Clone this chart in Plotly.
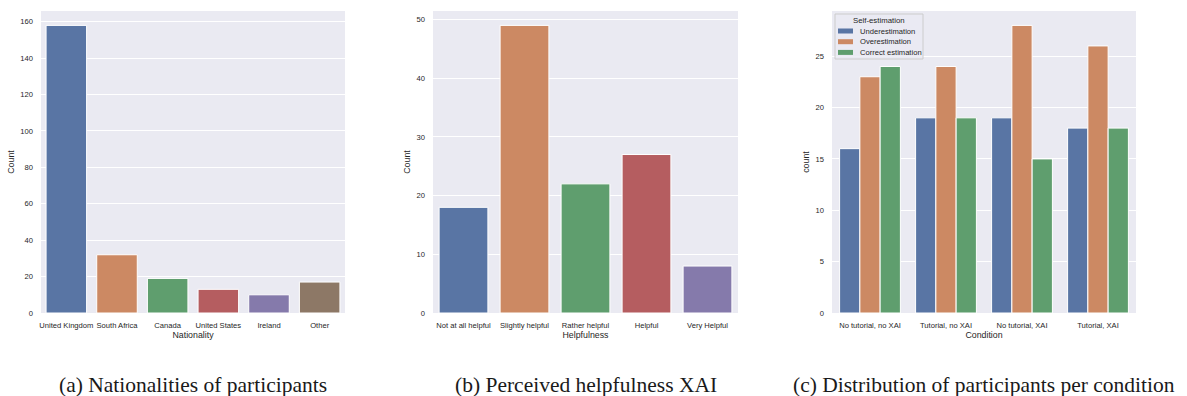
import plotly.graph_objects as go

# ---- data ----
nationalities = ["United Kingdom", "South Africa", "Canada", "United States", "Ireland", "Other"]
nationality_counts = [158, 32, 19, 13, 10, 17]

helpfulness = ["Not at all helpful", "Slightly helpful", "Rather helpful", "Helpful", "Very Helpful"]
helpfulness_counts = [18, 49, 22, 27, 8]

conditions = ["No tutorial, no XAI", "Tutorial, no XAI", "No tutorial, XAI", "Tutorial, XAI"]
self_estimation = ["Underestimation", "Overestimation", "Correct estimation"]
under_counts = [16, 19, 19, 18]
over_counts = [23, 24, 28, 26]
correct_counts = [24, 19, 15, 18]

captions = ["(a) Nationalities of participants",
            "(b) Perceived helpfulness XAI",
            "(c) Distribution of participants per condition"]

# seaborn "deep" palette, desaturated as in barplot
palette = ["#5975A4", "#CC8963", "#5F9E6E", "#B55D60", "#857AAB", "#8D7866"]

W, H = 1187, 396
BG = "#EAEAF2"
SANS = "Liberation Sans, Arial, sans-serif"
TICK_FONT = dict(family=SANS, size=7.6, color="#262626")
TITLE_FONT = dict(family=SANS, size=8.8, color="#262626")


def px_x(v):
    return v / W


def px_y(v):
    return 1 - v / H


panels = [(41, 345), (433, 738), (832, 1136)]
top, bottom = 11, 313

fig = go.Figure()

edge = dict(color="white", width=1)

fig.add_trace(go.Bar(x=nationalities, y=nationality_counts, xaxis="x", yaxis="y",
                     marker=dict(color=palette[:len(nationalities)], line=edge),
                     showlegend=False))
fig.add_trace(go.Bar(x=helpfulness, y=helpfulness_counts, xaxis="x2", yaxis="y2",
                     marker=dict(color=palette[:len(helpfulness)], line=edge),
                     showlegend=False))
for name, vals, col in zip(self_estimation, [under_counts, over_counts, correct_counts], palette):
    fig.add_trace(go.Bar(x=conditions, y=vals, name=name, xaxis="x3", yaxis="y3",
                         marker=dict(color=col, line=edge), showlegend=False))

ymax = [max(nationality_counts) * 1.05, max(helpfulness_counts) * 1.05,
        max(under_counts + over_counts + correct_counts) * 1.05]
dticks = [20, 10, 5]
xtitles = ["Nationality", "Helpfulness", "Condition"]
ytitles = ["Count", "Count", "count"]

layout = {}
for i, ((x0, x1), ym, dt, xt, yt) in enumerate(zip(panels, ymax, dticks, xtitles, ytitles)):
    sfx = "" if i == 0 else str(i + 1)
    layout["xaxis" + sfx] = dict(
        domain=[px_x(x0), px_x(x1)], anchor="y" + sfx, automargin=False,
        showgrid=False, zeroline=False, showline=False, ticks="", tickangle=0,
        ticklabelstandoff=6,
        tickfont=TICK_FONT, title=dict(text=xt, font=TITLE_FONT, standoff=1),
    )
    layout["yaxis" + sfx] = dict(
        domain=[px_y(bottom), px_y(top)], anchor="x" + sfx, automargin=False,
        range=[0, ym], dtick=dt, showgrid=True, gridcolor="white", gridwidth=1,
        zeroline=False, showline=False, ticks="", ticklabelstandoff=7,
        tickfont=TICK_FONT, title=dict(text=yt, font=TITLE_FONT, standoff=4),
    )

fig.update_layout(**layout)

# plot-area backgrounds
shapes = []
for (x0, x1) in panels:
    shapes.append(dict(type="rect", xref="paper", yref="paper", layer="below",
                       x0=px_x(x0), x1=px_x(x1), y0=px_y(bottom), y1=px_y(top),
                       fillcolor=BG, line=dict(width=0)))

annotations = []
for (x0, x1), cap in zip(panels, captions):
    annotations.append(dict(text=cap, xref="paper", yref="paper",
                            x=(px_x(x0) + px_x(x1)) / 2, y=px_y(385),
                            xanchor="center", yanchor="middle", showarrow=False,
                            font=dict(family="Liberation Serif, DejaVu Serif, serif",
                                      size=21.5, color="#1a1a1a")))

# compact legend box for the self-estimation panel
leg_x0, leg_x1, leg_y0, leg_y1 = 835, 923, 14, 59
shapes.append(dict(type="rect", xref="paper", yref="paper",
                   x0=px_x(leg_x0), x1=px_x(leg_x1), y0=px_y(leg_y1), y1=px_y(leg_y0),
                   fillcolor="rgba(234,234,242,0.8)", line=dict(color="#cccccc", width=1)))
annotations.append(dict(text="Self-estimation", xref="paper", yref="paper",
                        x=px_x((leg_x0 + leg_x1) / 2), y=px_y(20.5),
                        xanchor="center", yanchor="middle", showarrow=False,
                        font=dict(family=SANS, size=7.8, color="#262626")))
for k, (name, col) in enumerate(zip(self_estimation, palette)):
    yc = 31 + k * 10.7
    shapes.append(dict(type="rect", xref="paper", yref="paper",
                       x0=px_x(838), x1=px_x(853), y0=px_y(yc + 2.5), y1=px_y(yc - 2.5),
                       fillcolor=col, line=dict(width=0)))
    annotations.append(dict(text=name, xref="paper", yref="paper",
                            x=px_x(858), y=px_y(yc),
                            xanchor="left", yanchor="middle", showarrow=False,
                            font=dict(family=SANS, size=7.6, color="#262626")))

fig.update_layout(
    width=W, height=H, margin=dict(l=0, r=0, t=0, b=0),
    paper_bgcolor="white", plot_bgcolor="rgba(0,0,0,0)",
    barmode="group", bargap=0.2, bargroupgap=0,
    shapes=shapes, annotations=annotations, showlegend=False,
)

fig.write_html("out.html")
